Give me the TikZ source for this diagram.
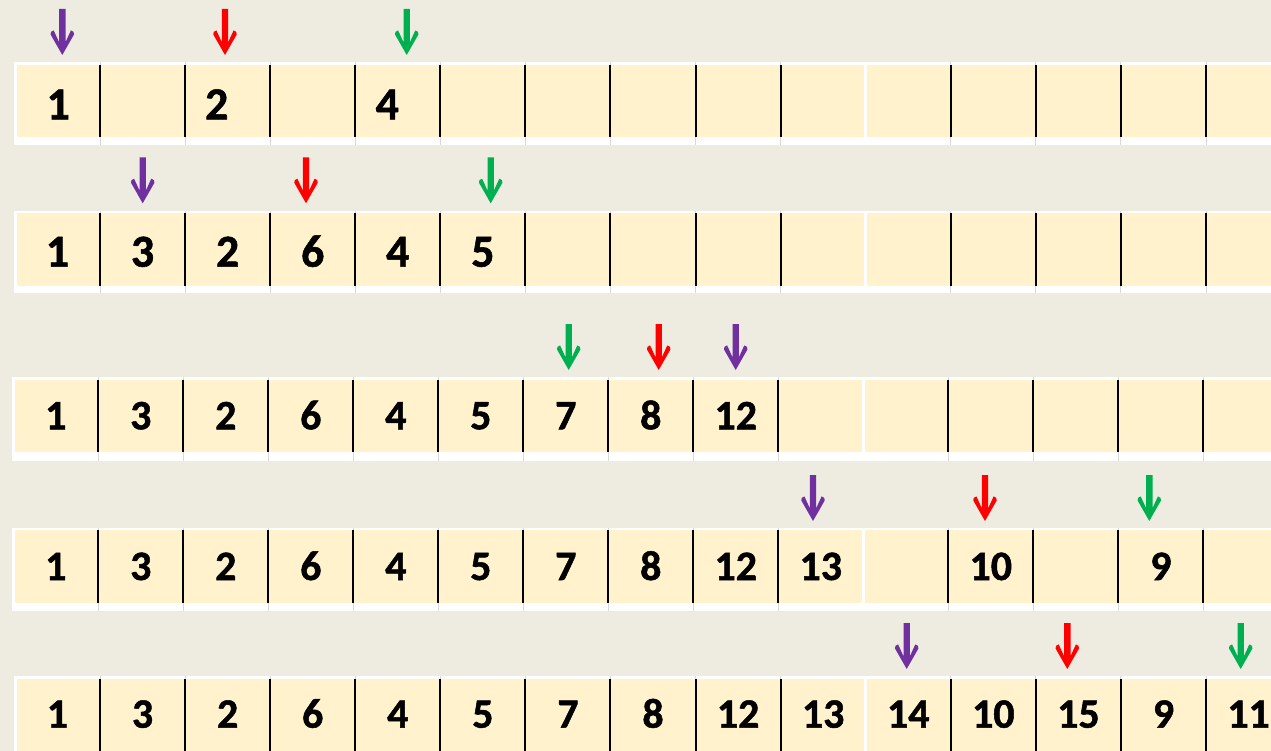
\documentclass[tikz,border=0pt]{standalone}
\usepackage{fontspec}
\setmainfont{Carlito}
\newfontface\heavyface{Carlito Bold}[FakeBold=1.2]
\definecolor{bg}{HTML}{EEECE1}
\definecolor{cream}{HTML}{FFF2CC}
\definecolor{apurple}{HTML}{7030A0}
\definecolor{ared}{HTML}{FF0000}
\definecolor{agreen}{HTML}{00B050}
\tikzset{
  num/.style={anchor=base, inner sep=0pt, font=\heavyface\fontsize{42}{46}\selectfont},
  bignum/.style={anchor=base, inner sep=0pt, font=\heavyface\fontsize{46}{50}\selectfont},
  sepline/.style={line width=2bp, black},
  tickline/.style={line width=1bp, black!15},
  darrow/.pic={\fill (0,0) -- (-11.7,-20.5) -- (-11.2,-23.2) -- (-8.6,-24.6) -- (-3.2,-12.8) -- (-3.2,-46) -- (3.2,-46) -- (3.2,-12.8) -- (8.6,-24.6) -- (11.2,-23.2) -- (11.7,-20.5) -- cycle;}
}
% #1 first line x, #2 pitch, #3 white left, #4 cream left, #5 white top, #6 cream top, #7 cream bottom, #8 white bottom
\newcommand{\drawcellrow}[8]{%
  \fill[white] (#3,#5) rectangle (1280,#8);
  \fill[cream] (#4,#6) rectangle (1280,#7);
  \foreach \k in {0,...,13}{
    \pgfmathsetmacro{\xx}{#1+#2*\k}
    \ifnum\k=9
      \fill[white] (\xx-1.7,#5) rectangle (\xx+1.7,#8);
    \else
      \draw[tickline] (\xx,#5) -- (\xx,#6);
      \draw[tickline] (\xx,#7) -- (\xx,#8);
      \draw[sepline] (\xx,#6) -- (\xx,#7);
    \fi
  }
}
\begin{document}
\begin{tikzpicture}[x=1bp,y=-1bp]
\useasboundingbox (0,0) rectangle (1271,751);
\fill[bg] (0,0) rectangle (1271,751);

% rows
\drawcellrow{100}{85.08}{14}{16.7}{62}{65}{136.7}{145}
\drawcellrow{100}{85.08}{14}{16.7}{210.7}{213.3}{285.7}{293.3}
\drawcellrow{98.3}{85.0}{12}{14.7}{376.7}{380}{452.3}{460.7}
\drawcellrow{98.3}{85.0}{12}{14.7}{527.7}{530}{602.7}{610.7}
\drawcellrow{100}{85.08}{14}{16.7}{676}{678.7}{752}{760}

% row 1 texts
\node[bignum] (r1c1) at (58.3,119.3) {1};
\node[bignum] (r1c3) at (216.7,119.3) {2};
\node[bignum] (r1c5) at (387.3,119.3) {4};

% row 2 texts
\foreach \k/\t in {1/1,2/3,3/2,4/6,5/4,6/5}
  \node[bignum] (r2c\k) at ({100+85.08*(\k-1.5)},266.7) {\t};

% row 3 texts
\foreach \k/\t in {1/1,2/3,3/2,4/6,5/4,6/5,7/7,8/8,9/12}
  \node[num] (r3c\k) at ({98.3+85.0*(\k-1.5)},429.3) {\t};

% row 4 texts
\foreach \k/\t in {1/1,2/3,3/2,4/6,5/4,6/5,7/7,8/8,9/12,10/13,12/10,14/9}
  \node[num] (r4c\k) at ({98.3+85.0*(\k-1.5)},580) {\t};

% row 5 texts
\foreach \k/\t in {1/1,2/3,3/2,4/6,5/4,6/5,7/7,8/8,9/12,10/13,11/14,12/10,13/15,14/9,15/11}
  \node[num] (r5c\k) at ({100+85.08*(\k-1.5)},727.7) {\t};

% arrows
\pic[fill=apurple] at (62.3,55) {darrow};
\pic[fill=ared] at (225,55) {darrow};
\pic[fill=agreen] at (406.7,55) {darrow};

\pic[fill=apurple] at (142.7,203.3) {darrow};
\pic[fill=ared] at (306,203.3) {darrow};
\pic[fill=agreen] at (490.7,203.3) {darrow};

\pic[fill=agreen] at (568.7,370) {darrow};
\pic[fill=ared] at (658.7,370) {darrow};
\pic[fill=apurple] at (735.7,370) {darrow};

\pic[fill=apurple] at (813,521) {darrow};
\pic[fill=ared] at (985,521) {darrow};
\pic[fill=agreen] at (1149.3,521) {darrow};

\pic[fill=apurple] at (906.7,669) {darrow};
\pic[fill=ared] at (1067.3,669) {darrow};
\pic[fill=agreen] at (1240.7,669) {darrow};
\end{tikzpicture}
\end{document}
